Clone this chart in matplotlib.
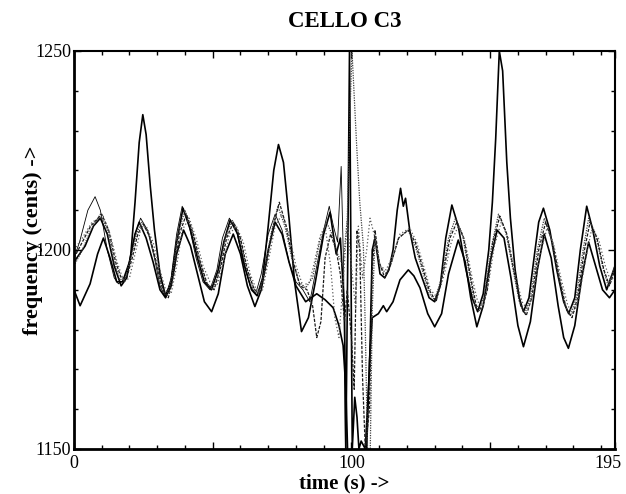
import numpy as np
import matplotlib
matplotlib.use("Agg")
import matplotlib.pyplot as plt
import matplotlib.transforms as mtransforms
from matplotlib.ticker import MultipleLocator, FixedLocator

# pitch tracks: (time, cents) pairs for each partial
a_t = [0, 4, 7, 9.5, 12, 14.5, 17, 19, 20.5, 22, 23.5, 24.8, 26, 27.5, 29, 31, 33, 35, 37, 39.3,
       42, 44.5, 47, 49.5, 52, 54, 56.3, 59, 61.5, 64, 66, 68, 70, 72, 73.7, 75.5, 77.5, 79.5, 82,
       84.5, 87, 90, 92.3, 94.5, 96, 97.5, 98, 98.7, 99.3, 99.8, 100.3, 101.2, 102, 102.7, 103.5,
       105, 106.5, 107.5, 108.5, 110.3, 112, 113.5, 115, 116.5, 117.7, 118.7, 119.5, 121, 123,
       125.5, 128, 130, 132, 134, 136.2, 138.5, 141, 143.5, 145.5, 147.5, 149.5, 150.8, 152, 153.3,
       154.5, 156, 157.3, 159, 160.5, 162, 164, 166, 167.5, 169.2, 171.5, 174, 176.5, 178.3, 180.5,
       182.5, 184.8, 187, 189.5, 192, 195]
a_f = [1197, 1201, 1206, 1208, 1204, 1196, 1191, 1193, 1199, 1212, 1227, 1234, 1229, 1216, 1205,
       1194, 1188.5, 1192, 1202, 1210.5, 1205, 1198, 1192, 1190, 1195, 1202, 1207.5, 1204, 1196,
       1190, 1188.5, 1193, 1206, 1220, 1226.5, 1222, 1208, 1192, 1179.5, 1183, 1192, 1204, 1209.5,
       1199, 1203, 1185, 1150, 1200, 1250, 1200, 1150, 1163, 1158, 1150, 1152, 1150, 1170, 1200,
       1203, 1194, 1193, 1195, 1200, 1210, 1215.5, 1211, 1213, 1205, 1198, 1193, 1188, 1187, 1191,
       1203, 1211.3, 1206, 1196, 1188, 1184.5, 1189, 1200, 1212, 1228, 1250, 1245, 1222, 1208, 1195,
       1188, 1184.5, 1188, 1199, 1207, 1210.5, 1205, 1195, 1187, 1184, 1188, 1200, 1211, 1205,
       1196, 1190, 1196]

b_t = [0, 2.2, 5.8, 8.5, 10.6, 13, 15.4, 17.5, 20, 22, 23.5, 26, 28.5, 31, 33, 35, 37, 39.5, 42,
       44.5, 47, 49.6, 52, 54.5, 57.4, 60, 62.5, 65.2, 67.5, 70, 72.5, 75, 77.5, 80, 83.5, 87.5,
       90.5, 93.4, 95.5, 97, 98, 98.6, 102, 105.5, 106.5, 107.5, 109.7, 111.5, 112.7, 115, 117.5,
       120.5, 122.5, 124.7, 127.5, 130, 132.5, 135, 138.5, 141, 143, 145.2, 147.5, 150, 152.5, 155,
       157.5, 160, 162, 164.5, 167, 169.5, 172, 174.5, 176.5, 178.2, 180.5, 183, 185.5, 188, 190.5,
       193, 195]
b_f = [1190, 1186, 1191.5, 1199, 1203, 1198, 1192, 1192, 1197, 1204, 1207, 1203, 1197, 1190, 1188,
       1191, 1199, 1205, 1201, 1194, 1187, 1184.5, 1189, 1199, 1204, 1199, 1191, 1185.8, 1190, 1200,
       1207, 1204, 1197, 1191, 1187, 1189, 1187.5, 1185.5, 1181, 1176, 1165, 1150, np.nan, 1150,
       1172, 1183, 1184, 1186, 1184.5, 1187, 1192.5, 1195, 1193.5, 1190.5, 1184, 1180.7, 1184, 1194,
       1202.5, 1197, 1188, 1180.7, 1186, 1197, 1205, 1203, 1193, 1181, 1175.7, 1182, 1195, 1204,
       1198, 1186, 1178, 1175.3, 1181, 1193, 1202, 1196, 1190, 1188, 1190]

c_t = [0, 3, 6, 9.5, 12, 14.5, 16.5, 18.5, 20.5, 22.5, 24.5, 27, 29.5, 31.5, 33.5, 35.5, 37.5, 40,
       42.5, 45, 47.5, 50, 52.5, 54.5, 57, 59.5, 62, 64.5, 66.5, 68.5, 71, 73.5, 76, 78.5, 81, 83.5,
       86, 88.5, 91, 93, 95, 97, 98.5, 99.5, 100.2, 101.9, 103, 104.3, 105, 105.8, 106.8, 107.5,
       108.5, 110.3, 112.5, 114.5, 117, 120.4, 123, 125.5, 128, 130, 132.5, 135, 137.5, 140, 142.5,
       144.5, 146, 148, 150.5, 153, 155.5, 158, 160.5, 162.5, 164.5, 167, 169.5, 172, 174.5, 177,
       179, 181, 183.5, 185.5, 188, 190.5, 192.5, 195]
c_f = [1196, 1200, 1205, 1209, 1205, 1197, 1192.5, 1193, 1198, 1204, 1207, 1204, 1197, 1191,
       1188.5, 1194, 1204, 1210, 1205, 1198, 1192, 1190, 1195, 1203, 1207.5, 1204, 1196, 1190.5,
       1189, 1194, 1204, 1211, 1206, 1198, 1192, 1190.5, 1193, 1202, 1207, 1204, 1199, 1196, 1208,
       1235, 1250, 1226, 1212, 1201, 1180, 1150, 1150, 1185, 1203, 1196, 1194, 1197, 1203, 1205,
       1201, 1195, 1189, 1187.5, 1193, 1203, 1208, 1204, 1194, 1186, 1184.5, 1189, 1201, 1209, 1205,
       1196, 1187, 1184, 1188, 1200, 1208, 1203, 1194, 1186, 1183.5, 1188, 1200, 1208, 1204, 1196,
       1191, 1196]

d_t = [0, 3, 6, 10, 12.5, 15, 17, 19, 21, 23, 25, 27.5, 30, 32, 34, 36, 38, 40.5, 43, 45.5, 48,
       50.5, 53, 55, 57.5, 60, 62.5, 65, 67, 69, 71.5, 74, 76.5, 79, 81.5, 84, 86, 87.5, 89, 90.5,
       92.5, 94.5, 96, 97.5, 98.5, 100, 101, 102, 103, 104, 105, 106.5, 107.5, 108.5, 110, 112,
       114, 117, 120.5, 123, 125.5, 128, 130.5, 133, 135.5, 138, 140.5, 143, 145, 147, 149, 151,
       153.5, 156, 158.5, 161, 163, 165, 167.5, 170, 172.5, 175, 177.5, 179.5, 181.5, 184, 186,
       188.5, 191, 193, 195]
d_f = [1198, 1202, 1206, 1209, 1205, 1197, 1193, 1193, 1198, 1204, 1206.5, 1203, 1196, 1190, 1188,
       1194, 1204, 1209, 1204, 1197, 1191.5, 1190, 1196, 1203, 1207, 1203, 1195, 1190, 1189.5, 1195,
       1205, 1212, 1206, 1197, 1191, 1190, 1186, 1178, 1182, 1198, 1204, 1200, 1194, 1182, 1190,
       1178, 1165, 1205, 1200, 1168, 1150, 1160, 1195, 1205, 1197, 1193, 1196, 1203, 1205, 1202,
       1196, 1190, 1187, 1194, 1203, 1207, 1203, 1193, 1186, 1185, 1190, 1202, 1208.5, 1204, 1195,
       1186, 1183.5, 1188, 1200, 1207, 1202, 1193, 1185, 1183, 1188, 1200, 1207, 1203, 1195, 1191,
       1195]

e_t = [0, 3, 6.5, 10.5, 13, 15.5, 18, 20, 22, 24, 26, 28.5, 31, 33, 35, 37, 39, 41.5, 44, 46.5,
       49, 51.5, 54, 56, 58.5, 61, 63.5, 66, 68, 70, 72.5, 75, 77.5, 80, 82.5, 85, 87, 88.7, 90.5,
       92.5, 94, 95.5, 97, 98.5, 100, 101.5, 102.5, 104, 105.5, 106.7, 108.5, 110.3, 112.5, 114.5,
       117.5, 121, 123.5, 126, 128.5, 131, 133.5, 136, 138.5, 141, 143.5, 145.5, 147.5, 149.5,
       151.5, 154, 156.5, 159, 161.5, 163.5, 165.5, 168, 170.5, 173, 175.5, 178, 180, 182, 184.5,
       186.5, 189, 191.5, 193.5, 195]
e_f = [1200, 1203, 1207, 1208.5, 1204, 1197, 1192, 1193, 1199, 1205, 1206, 1202, 1195, 1190, 1189,
       1196, 1205, 1208, 1203, 1196, 1192, 1191, 1197, 1204, 1206, 1202, 1194, 1189.5, 1190, 1197,
       1206, 1209, 1204, 1196, 1191, 1192, 1198, 1203.5, 1206, 1196, 1183, 1178, 1192, 1207, 1196,
       1185, 1206, 1193, 1200, 1208, 1203, 1196, 1195, 1198, 1204, 1205.5, 1202, 1196, 1190, 1188,
       1194, 1202, 1206, 1202, 1193, 1187, 1186, 1192, 1201, 1207, 1203, 1194, 1187, 1185, 1189,
       1199, 1205.5, 1201, 1193, 1186, 1184, 1188, 1198, 1205, 1203, 1196, 1192, 1194]

f_t = [0, 2, 5, 7.6, 9.5, 12, 14.5, 16, 18, 20, 22, 24, 26.5, 29, 31, 33, 35, 37, 39, 41.5, 44,
       46.5, 49, 51.5, 53.5, 56, 58.5, 61, 63.5, 65.5, 67.5, 70, 72.5, 75, 77.5, 80, 82.5, 85, 87.5,
       90, 92, 93.5, 95, 96.3, 97.2, 97.8]
f_f = [1198, 1202, 1210, 1213.4, 1210, 1200, 1193, 1191.5, 1192.5, 1197, 1204, 1208, 1205, 1198,
       1191, 1188, 1193, 1204, 1211, 1206, 1198, 1192, 1190, 1195, 1203, 1208, 1205, 1197, 1191,
       1189, 1194, 1204, 1209, 1205, 1197, 1192, 1190, 1187, 1196, 1205, 1211, 1206, 1202, 1221,
       1195, 1150]

plt.rcParams['font.family'] = ['Liberation Serif', 'DejaVu Serif']

fig = plt.figure(figsize=(6.26, 4.94), dpi=100)
ax = fig.add_axes([74 / 626, 45 / 494, 541 / 626, 398 / 494])

ax.plot(a_t, a_f, color='black', lw=1.2)
ax.plot(b_t, b_f, color='black', lw=1.2)
ax.plot(f_t, f_f, color='black', lw=0.6)
ax.plot(c_t, c_f, color='0.25', lw=0.9, linestyle=(0, (1, 1)))
ax.plot(d_t, d_f, color='0.1', lw=0.9, linestyle=(0, (2.5, 1.2)))
ax.plot(e_t, e_f, color='0.35', lw=0.9, linestyle=(0, (1, 1.8)))

ax.set_xlim(0, 195)
ax.set_ylim(1150, 1250)

ax.xaxis.set_major_locator(FixedLocator([0, 50, 100, 150, 195]))
ax.set_xticklabels(['0', '', '100', '', '195'])
ax.xaxis.set_minor_locator(MultipleLocator(10))
ax.yaxis.set_major_locator(FixedLocator([1150, 1200, 1250]))
ax.yaxis.set_minor_locator(MultipleLocator(10))
ax.tick_params(which='both', direction='in', top=True, right=True, width=1, color='black')
ax.tick_params(which='major', length=5)
ax.tick_params(which='minor', length=3)
ax.tick_params(axis='x', which='major', labelsize=13, pad=4)
ax.tick_params(axis='y', which='major', labelsize=13, pad=2)

# last x label sits just inside the right edge, as in the scan
last = ax.get_xticklabels()[-1]
last.set_transform(last.get_transform() + mtransforms.ScaledTranslation(-7 / 100, 0, fig.dpi_scale_trans))

for side in ['left', 'bottom']:
    ax.spines[side].set_linewidth(2)
for side in ['top', 'right']:
    ax.spines[side].set_linewidth(1.5)

ax.set_title('CELLO C3', fontsize=16.5, fontweight='bold', pad=17)
ax.set_xlabel('time (s) ->', fontsize=15, fontweight='bold')
ax.xaxis.set_label_coords(0.5, -0.062)
ax.set_ylabel('frequency (cents) ->', fontsize=16, fontweight='bold')
ax.yaxis.set_label_coords(-0.058, 0.525)

fig.savefig('out.png', dpi=100)
